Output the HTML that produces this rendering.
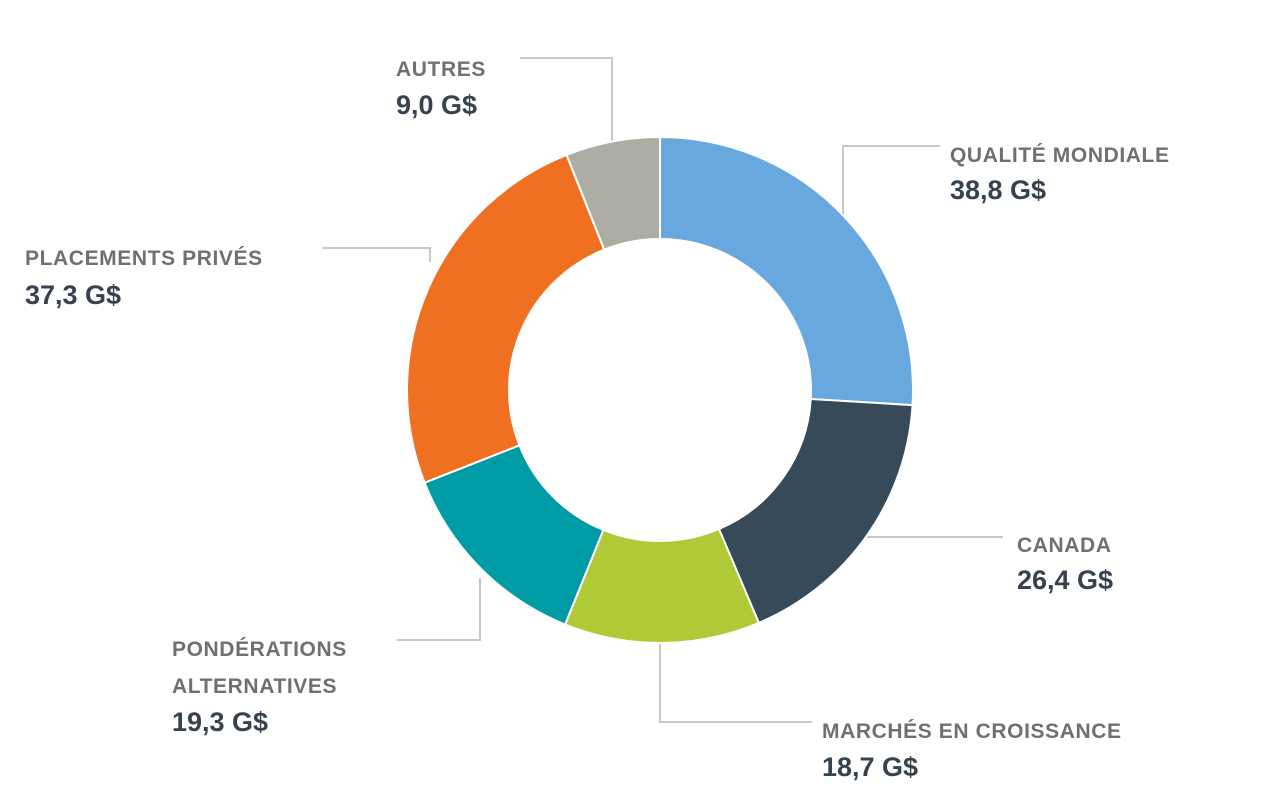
<!DOCTYPE html>
<html><head><meta charset="utf-8">
<style>
body{margin:0;background:#fff;font-family:"Liberation Sans",sans-serif;}
svg{display:block}
.lab{font-weight:bold;font-size:21px;fill:#707070;letter-spacing:0.6px}
.val{font-weight:bold;font-size:27px;fill:#36424f}
</style></head>
<body>
<svg width="1271" height="809">
<g id="lines" stroke="#c8c8c8" stroke-width="2" fill="none">
<polyline points="843,215 843,146 940,146"/>
<polyline points="866,537 1003,537"/>
<polyline points="660,643 660,722 812,722"/>
<polyline points="480,578 480,640 397,640"/>
<polyline points="322,248 430,248 430,262"/>
<polyline points="612,145 612,58 520,58"/>
</g>
<g id="slices"></g>
<text class="lab" x="950" y="162">QUALITÉ MONDIALE</text>
<text class="val" x="950" y="199">38,8 G$</text>
<text class="lab" x="1017" y="552">CANADA</text>
<text class="val" x="1017" y="589">26,4 G$</text>
<text class="lab" x="822" y="738">MARCHÉS EN CROISSANCE</text>
<text class="val" x="822" y="776">18,7 G$</text>
<text class="lab" x="172" y="656">PONDÉRATIONS</text>
<text class="lab" x="172" y="693">ALTERNATIVES</text>
<text class="val" x="172" y="731">19,3 G$</text>
<text class="lab" x="25" y="265">PLACEMENTS PRIVÉS</text>
<text class="val" x="25" y="304">37,3 G$</text>
<text class="lab" x="396" y="76">AUTRES</text>
<text class="val" x="396" y="114">9,0 G$</text>
</svg>
<script>
const categories=["Qualité mondiale","Canada","Marchés en croissance","Pondérations alternatives","Placements privés","Autres"];
const values=[38.8,26.4,18.7,19.3,37.3,9.0];
const colors=["#69a8df","#374a5a","#afc937","#009ca6","#f07022","#adada3"];
const cx=660,cy=390,R=253,r=151;
const total=values.reduce((a,b)=>a+b,0);
const g=document.getElementById('slices');
function pt(a,rad){return [cx+rad*Math.sin(a),cy-rad*Math.cos(a)];}
let acc=0;
values.forEach((v,i)=>{
  const a0=acc/total*2*Math.PI;acc+=v;const a1=acc/total*2*Math.PI;
  const lg=(a1-a0)>Math.PI?1:0;
  const p0=pt(a0,R),p1=pt(a1,R),q1=pt(a1,r),q0=pt(a0,r);
  const p=document.createElementNS('http://www.w3.org/2000/svg','path');
  p.setAttribute('d',`M${p0}A${R},${R} 0 ${lg} 1 ${p1}L${q1}A${r},${r} 0 ${lg} 0 ${q0}Z`);
  p.setAttribute('fill',colors[i]);p.setAttribute('stroke','#fff');p.setAttribute('stroke-width','2');
  
  
  g.appendChild(p);
});
</script>
</body></html>
